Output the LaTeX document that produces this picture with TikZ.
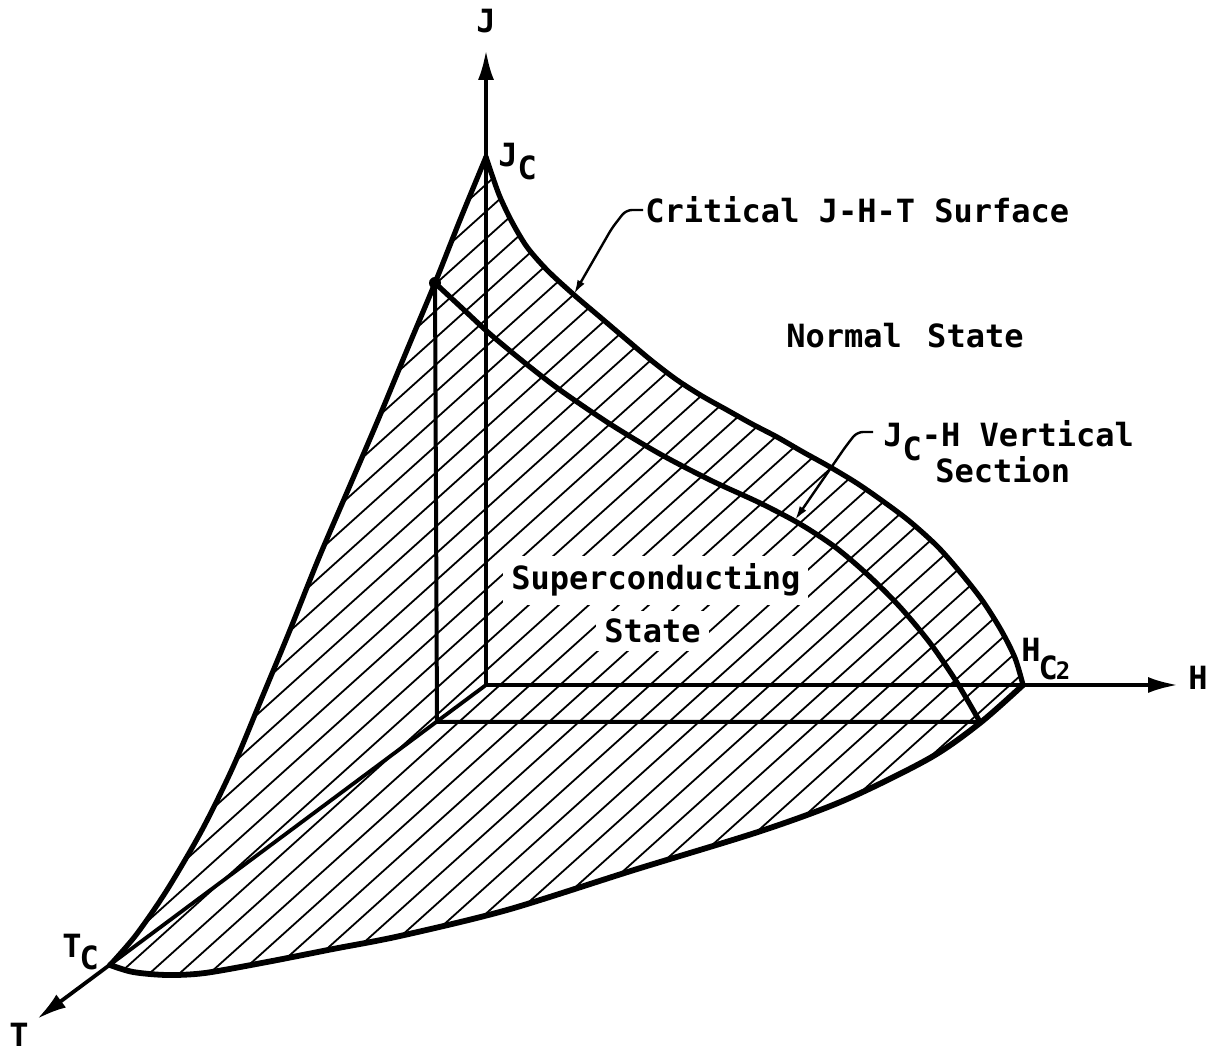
\documentclass[tikz,border=0pt]{standalone}
\usepackage{fontspec}
\newfontfamily\lab{DejaVu Sans Mono}
\usetikzlibrary{arrows.meta}
\begin{document}
\begin{tikzpicture}[x=0.5pt,y=-0.5pt,
  outer/.style={line width=2.6pt, line join=round, line cap=round},
  innerline/.style={line width=2pt, line join=round, line cap=round},
  axisline/.style={line width=1.9pt, -{Latex[length=15pt,width=8pt]}},
  hatchline/.style={line width=0.9pt},
  leader/.style={line width=1.2pt, rounded corners=3pt, -{Latex[length=7pt,width=4pt]}},
  lbl/.style={font=\lab\bfseries\fontsize{16}{18}\selectfont, inner sep=0pt, anchor=base west},
  lblbox/.style={lbl, fill=white, inner sep=4pt},
]
\useasboundingbox (0,0) rectangle (1222,1052);
% key points
\coordinate (O) at (486,685);
\coordinate (Jc) at (486,157);
\coordinate (Hc) at (1023,685);
\coordinate (Tc) at (110,965);
\coordinate (Op) at (437,722);
\coordinate (S) at (435,283);
\coordinate (Sb) at (980,722);
\coordinate (Jt) at (486,50);
\coordinate (Ht) at (1178,685);
\coordinate (Tt) at (37,1019);
\coordinate (P1) at (574,294);
\coordinate (P2) at (795,520);

% hatching
\begin{scope}
\clip plot[smooth] coordinates {(486,157) (460,220) (435,283) (407,350) (378,420) (348,490) (318,560) (290,630) (261,700) (233,767) (202,830) (167,890) (136,935) (110,965)}
 -- plot[smooth] coordinates {(110,965) (133,972) (167,975) (205,973) (267,962) (333,949) (400,936) (507,910) (634,870) (761,831) (845,800) (930,758) (980,723) (1023,685)}
 -- plot[smooth] coordinates {(1023,685) (1015,658) (1001,630) (982,600) (960,572) (937,546) (908,520) (877,497) (855,482) (830,467) (803,452) (777,437) (752,424) (727,410) (702,396) (677,380) (652,361) (627,340) (600,317) (573,294) (547,270) (527,247) (512,222) (500,197) (492,175) (486,157)}
 -- cycle;
\foreach \c in {-480,-450,...,1050} \draw[hatchline] (\c,1000) -- ++(1111,-1000);
\end{scope}

% text with white background inside the hatched area
\node[lblbox] (sc1) at (503,590) {Superconducting};
\node[lblbox] (sc2) at (596,643) {State};

% outer boundary of the critical surface
\draw[outer] plot[smooth] coordinates {(486,157) (460,220) (435,283) (407,350) (378,420) (348,490) (318,560) (290,630) (261,700) (233,767) (202,830) (167,890) (136,935) (110,965)};
\draw[outer, line width=2.9pt] plot[smooth] coordinates {(110,965) (133,972) (167,975) (205,973) (267,962) (333,949) (400,936) (507,910) (634,870) (761,831) (845,800) (930,758) (980,723) (1023,685)};
\draw[outer] plot[smooth] coordinates {(486,157) (492,175) (500,197) (512,222) (527,247) (547,270) (573,294) (600,317) (627,340) (652,361) (677,380) (702,396) (727,410) (752,424) (777,437) (803,452) (830,467) (855,482) (877,497) (908,520) (937,546) (960,572) (982,600) (1001,630) (1015,658) (1023,685)};

% vertical section
\draw[outer] plot[smooth] coordinates {(435,283) (463,309) (490,334) (525,363) (560,390) (610,424) (660,454) (710,480) (760,503) (800,524) (835,547) (868,575) (900,607) (930,643) (956,681) (980,722)};
\draw[innerline] (S) -- (Op) -- (Sb);
\fill (S) circle (6);

% axes
\draw[axisline] (O) -- (Jt);
\draw[axisline] (O) -- (Ht);
\draw[axisline] (O) -- (Tt);

% labels
\node[lbl] (Jlab) at (476,33) {J};
\node[lbl] (Jclab) at (498,167) {J\raisebox{-6.5pt}{C}};
\node[lbl] (Tclab) at (62,958) {T\kern-1pt\raisebox{-6pt}{C}};
\node[lbl] (Tlab) at (9,1047) {T};
\node[lbl] (Hlab) at (1188,690) {H};
\node[lbl] (Hclab) at (1021,662) {H\kern-1pt\raisebox{-9pt}{C\kern-1pt{\fontsize{12}{12}\selectfont 2}}};
\node[lbl] (crit) at (645,223) {Critical J-H-T Surface};
\node[lbl] (norm) at (786,348) {Normal\kern3pt\ State};
\node[lbl] (jch) at (883,447) {J\raisebox{-7pt}{C}-H Vertical};
\node[lbl] (sect) at (935,483) {Section};

% leaders
\coordinate (L1) at (643,210);
\coordinate (L2) at (873,432);
\draw[leader] (L1) -- (626,210) -- (612,228) -- (P1);
\draw[leader] (L2) -- (857,432) -- (846,446) -- (P2);
\end{tikzpicture}
\end{document}
